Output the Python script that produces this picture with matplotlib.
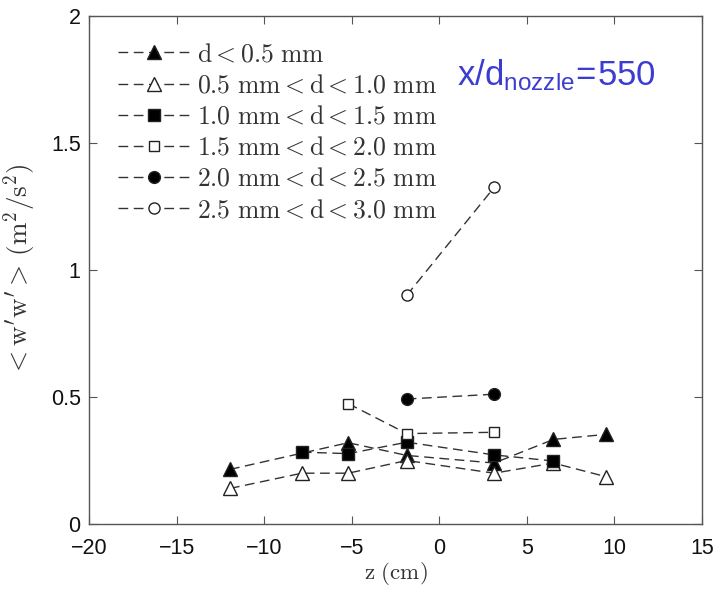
import matplotlib
matplotlib.use("Agg")
import matplotlib.pyplot as plt
from matplotlib.font_manager import FontProperties

# ---- data ----
z_tri_f = [-11.95, -5.2, -1.86, 3.13, 6.52, 9.53]
v_tri_f = [0.215, 0.32, 0.27, 0.24, 0.333, 0.353]

z_tri_o = [-11.95, -7.85, -5.2, -1.86, 3.13, 6.52, 9.53]
v_tri_o = [0.14, 0.20, 0.20, 0.25, 0.20, 0.24, 0.186]

z_sq_f = [-7.85, -5.2, -1.86, 3.13, 6.52]
v_sq_f = [0.283, 0.277, 0.322, 0.272, 0.248]

z_sq_o = [-5.2, -1.86, 3.13]
v_sq_o = [0.474, 0.356, 0.361]

z_ci_f = [-1.86, 3.13]
v_ci_f = [0.492, 0.511]

z_ci_o = [-1.86, 3.13]
v_ci_o = [0.90, 1.325]

labels = [r"$\mathrm{d} < 0.5\ \mathrm{mm}$",
          r"$0.5\ \mathrm{mm} < \mathrm{d} < 1.0\ \mathrm{mm}$",
          r"$1.0\ \mathrm{mm} < \mathrm{d} < 1.5\ \mathrm{mm}$",
          r"$1.5\ \mathrm{mm} < \mathrm{d} < 2.0\ \mathrm{mm}$",
          r"$2.0\ \mathrm{mm} < \mathrm{d} < 2.5\ \mathrm{mm}$",
          r"$2.5\ \mathrm{mm} < \mathrm{d} < 3.0\ \mathrm{mm}$"]

xticks = [-20, -15, -10, -5, 0, 5, 10, 15]
yticks = [0, 0.5, 1, 1.5, 2]
yticklabels = ["0", "0.5", "1", "1.5", "2"]

plt.rcParams['mathtext.rm'] = 'Liberation Sans'
plt.rcParams['mathtext.it'] = 'Liberation Sans'

fig = plt.figure(figsize=(7.17, 5.91), dpi=100)
ax = fig.add_axes([89/717, (591-524)/591, (702-89)/717, (524-16)/591])

linecol = '#333333'
series = [
    (z_tri_f, v_tri_f, '^', 'black', 9.5),
    (z_tri_o, v_tri_o, '^', 'white', 9.5),
    (z_sq_f, v_sq_f, 's', 'black', 8),
    (z_sq_o, v_sq_o, 's', 'white', 7.5),
    (z_ci_f, v_ci_f, 'o', 'black', 8.5),
    (z_ci_o, v_ci_o, 'o', 'white', 8),
]
for (zz, vv, m, fc, ms), lab in zip(series, labels):
    ax.plot(zz, vv, linestyle=(0, (7, 4)), color=linecol, lw=1.0,
            marker=m, markerfacecolor=fc, markeredgecolor='#222222',
            markeredgewidth=1.0, markersize=ms, label=lab)

ax.set_xlim(-20, 15)
ax.set_ylim(0, 2)
ax.set_xticks(xticks)
ax.set_xticklabels([str(t).replace('-', '\u2212') for t in xticks])
ax.set_yticks(yticks)
ax.set_yticklabels(yticklabels)
for s in ax.spines.values():
    s.set_color('#555555')
    s.set_linewidth(1.0)
ax.tick_params(direction='in', length=6, width=0.8, color='#555555',
               top=True, right=True, labelsize=15.5, labelcolor='#111111')
ax.tick_params(axis='x', pad=10)
ax.tick_params(axis='y', pad=6)
for t in ax.get_xticklabels() + ax.get_yticklabels():
    t.set_family('Liberation Sans')

ax.set_xlabel(r"$\mathrm{z\ (cm)}$", fontproperties=FontProperties(size=16.5, math_fontfamily='cm'),
              color='#333333', labelpad=1)
ax.set_ylabel(r"$<\mathrm{w'w'}>\,(\mathrm{m}^2/\mathrm{s}^2)$",
              fontproperties=FontProperties(size=19.5, math_fontfamily='cm'),
              color='#333333', labelpad=9)

leg = ax.legend(loc='upper left', bbox_to_anchor=(0.047, 0.95), frameon=False,
                prop=FontProperties(size=18.5, math_fontfamily='cm'),
                handlelength=2.8, handletextpad=0.3, labelspacing=0.2,
                borderaxespad=0, borderpad=0)
for t in leg.get_texts():
    t.set_color('#333333')

ax.text(1.02, 1.728, r"$\mathrm{x/d_{nozzle}\!=\!550}$", color='#3c3cd2',
        fontsize=25, math_fontfamily='custom', ha='left', va='baseline')

fig.savefig("out.png", dpi=100)
